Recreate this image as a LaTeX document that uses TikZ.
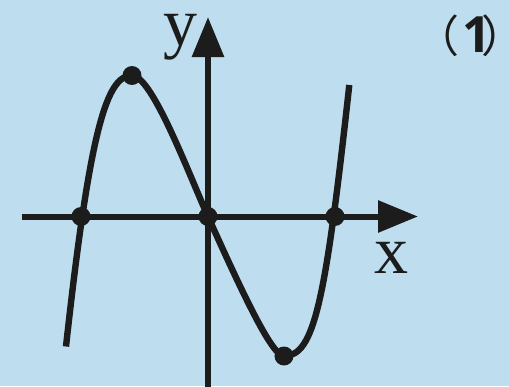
\documentclass[tikz,border=0pt]{standalone}
\usepackage{fontspec}
\setmainfont{Liberation Serif}
\newfontfamily\cjkfont{Noto Sans CJK SC}
\newfontfamily\numfont{Open Sans}
\usetikzlibrary{arrows.meta}
\definecolor{paneblue}{RGB}{190,222,240}
\definecolor{inkblack}{RGB}{28,28,28}
\tikzset{
  axis/.style   ={draw=inkblack, line width=3pt,
                  -{Triangle[length=20pt, width=15.5pt]}},
  curve/.style  ={draw=inkblack, line width=3.2pt},
  dot/.style    ={circle, fill=inkblack, inner sep=0pt, minimum size=9.5pt},
  axlabel/.style={font=\fontsize{34}{34}\selectfont, text=inkblack,
                  inner sep=0pt, anchor=base},
  partno/.style ={font=\cjkfont\fontsize{22}{22}\selectfont, text=inkblack,
                  inner sep=0pt, anchor=base west},
}

\begin{document}
\begin{tikzpicture}[x=0.5pt, y=0.5pt]
  \fill[paneblue] (-208,-169.5) rectangle (301,216.5);
  \useasboundingbox (-208,-169.5) rectangle (301,216.5);

  \coordinate (xstart) at (-186,0);
  \coordinate (xend)   at (210,0);
  \coordinate (ystart) at (0,-175);
  \coordinate (yend)   at (0,199.5);
  \draw[axis] (xstart) -- (xend);
  \draw[axis] (ystart) -- (yend);

  \coordinate (lend) at (-142,-130);
  \coordinate (rend) at (141.3,131.5);
  \node[dot] (rootl) at (-127,0) {};
  \node[dot] (orig)  at (0,0) {};
  \node[dot] (rootr) at (127,0) {};
  \node[dot] (peak)  at (-76,141) {};
  \node[dot] (pit)   at (76,-139.5) {};

  \draw[curve] (lend) .. controls (-117.8,90) and (-101,141) .. (peak.center)
               .. controls (-56,141) and (-20,44.4) .. (orig.center)
               .. controls (35,-77.7) and (64,-139.5) .. (pit.center)
               .. controls (106,-139.5) and (117.1,-88.5) .. (rend);

  \node[axlabel] (ylab) at (-27,170.5) {y};
  \node[axlabel] (xlab) at (183,-57) {x};
  \node[partno]  (num)  at (207,164)
        {（\hspace{0.08em}{\numfont\bfseries\fontsize{25}{25}\selectfont 1}\hspace{-0.22em}）\hspace{-0.55em}};
\end{tikzpicture}
\end{document}
